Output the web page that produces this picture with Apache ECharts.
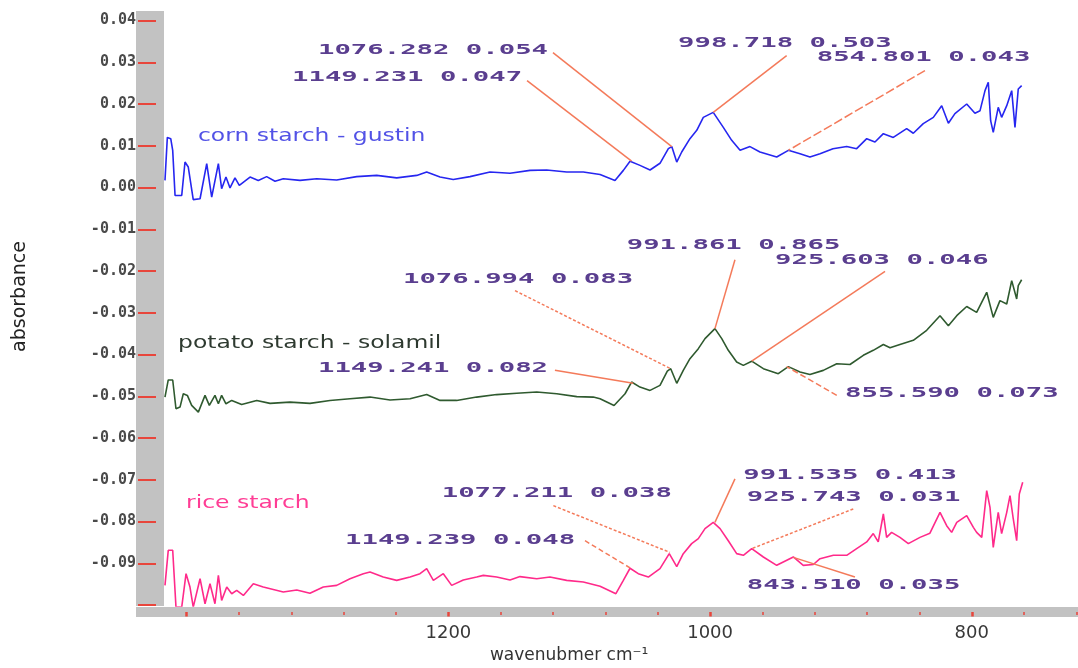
<!DOCTYPE html>
<html><head><meta charset="utf-8">
<script src="https://cdn.jsdelivr.net/npm/echarts@6/dist/echarts.min.js"></script>
<style>html,body{margin:0;padding:0;background:#fff}#main{width:1078px;height:668px}</style>
</head><body><div id="main"></div>
<script>
// ---- data: [wavenumber cm-1, absorbance] ----
const cornStarch = [
[1416.6,0.0017],[1414.8,0.0120],[1412.2,0.0117],[1410.7,0.0089],[1408.9,-0.0019],[1403.8,-0.0019],
[1401.3,0.0061],[1398.8,0.0049],[1395.0,-0.0029],[1389.8,-0.0027],[1384.7,0.0057],[1380.9,-0.0023],
[1375.8,0.0057],[1373.3,-0.0003],[1370.0,0.0025],[1366.9,-0.0001],[1363.1,0.0023],[1359.8,0.0005],
[1351.6,0.0025],[1345.3,0.0017],[1338.9,0.0026],[1332.5,0.0015],[1326.2,0.0021],[1313.4,0.0017],
[1300.6,0.0021],[1285.4,0.0018],[1270.1,0.0026],[1254.8,0.0029],[1239.5,0.0023],[1224.2,0.0029],
[1216.6,0.0037],[1206.4,0.0025],[1196.3,0.0019],[1183.5,0.0026],[1168.2,0.0037],[1152.9,0.0034],
[1137.6,0.0041],[1124.9,0.0042],[1109.6,0.0037],[1096.9,0.0037],[1084.1,0.0031],[1072.7,0.0017],
[1066.3,0.0041],[1061.2,0.0063],[1053.6,0.0053],[1045.9,0.0042],[1038.3,0.0058],[1031.9,0.0093],
[1029.3,0.0098],[1025.5,0.0061],[1021.7,0.0085],[1015.4,0.0117],[1010.2,0.0137],[1005.2,0.0168],
[997.6,0.0180],[989.9,0.0144],[983.5,0.0113],[977.1,0.0089],[969.5,0.0098],[961.9,0.0085],
[949.1,0.0073],[940.2,0.0089],[931.3,0.0081],[923.7,0.0073],[916.0,0.0081],[906.1,0.0093],
[895.6,0.0098],[888.0,0.0093],[880.3,0.0117],[874.0,0.0109],[867.6,0.0129],[860.0,0.0120],
[849.8,0.0141],[844.7,0.0130],[837.1,0.0153],[829.4,0.0168],[823.0,0.0196],[817.9,0.0154],
[812.9,0.0177],[803.9,0.0200],[797.6,0.0178],[793.7,0.0184],[789.9,0.0232],[787.4,0.0252],
[785.6,0.0160],[783.6,0.0132],[779.8,0.0192],[777.2,0.0168],[773.3,0.0196],[769.5,0.0232],
[767.0,0.0144],[764.5,0.0236],[761.9,0.0244]
];
const potatoStarch = [
[1416.6,-0.0502],[1414.1,-0.0461],[1410.7,-0.0461],[1408.2,-0.0530],[1405.1,-0.0526],[1402.6,-0.0494],
[1399.5,-0.0498],[1396.2,-0.0522],[1391.1,-0.0538],[1386.0,-0.0498],[1382.7,-0.0522],[1378.4,-0.0498],
[1375.8,-0.0518],[1373.3,-0.0498],[1370.0,-0.0518],[1365.6,-0.0510],[1358.0,-0.0520],[1346.5,-0.0510],
[1336.3,-0.0517],[1321.1,-0.0514],[1305.8,-0.0517],[1290.5,-0.0510],[1275.2,-0.0506],[1259.9,-0.0502],
[1244.6,-0.0509],[1229.3,-0.0506],[1216.6,-0.0496],[1206.4,-0.0510],[1193.7,-0.0510],[1178.4,-0.0502],
[1163.1,-0.0496],[1147.8,-0.0493],[1132.5,-0.0490],[1117.2,-0.0494],[1101.9,-0.0501],[1089.3,-0.0502],
[1084.1,-0.0506],[1073.4,-0.0522],[1065.0,-0.0494],[1060.0,-0.0466],[1053.6,-0.0478],[1045.9,-0.0486],
[1038.3,-0.0474],[1032.7,-0.0440],[1030.1,-0.0434],[1025.5,-0.0469],[1020.5,-0.0438],[1015.4,-0.0410],
[1009.0,-0.0386],[1003.9,-0.0362],[996.3,-0.0338],[991.1,-0.0362],[986.1,-0.0390],[979.7,-0.0418],
[974.6,-0.0426],[968.2,-0.0416],[959.3,-0.0434],[947.9,-0.0446],[940.2,-0.0429],[931.3,-0.0442],
[923.7,-0.0448],[913.5,-0.0438],[903.2,-0.0422],[893.1,-0.0424],[882.9,-0.0402],[875.3,-0.0390],
[867.6,-0.0376],[862.5,-0.0384],[854.9,-0.0376],[844.7,-0.0366],[834.5,-0.0342],[824.3,-0.0307],
[817.9,-0.0331],[811.5,-0.0307],[803.9,-0.0285],[796.3,-0.0299],[788.6,-0.0251],[783.6,-0.0311],
[778.5,-0.0271],[773.3,-0.0279],[769.5,-0.0223],[765.7,-0.0267],[764.5,-0.0235],[761.9,-0.0221]
];
const riceStarch = [
[1416.6,-0.0953],[1414.1,-0.0869],[1410.7,-0.0869],[1408.2,-0.1005],[1403.8,-0.1005],[1400.5,-0.0925],
[1397.5,-0.0957],[1395.0,-0.1005],[1389.8,-0.0937],[1386.0,-0.0997],[1382.2,-0.0949],[1378.4,-0.0997],
[1375.8,-0.0929],[1373.3,-0.0989],[1369.4,-0.0957],[1365.6,-0.0973],[1361.8,-0.0965],[1356.7,-0.0977],
[1349.1,-0.0949],[1341.5,-0.0957],[1326.2,-0.0969],[1315.9,-0.0964],[1305.8,-0.0972],[1295.6,-0.0957],
[1285.4,-0.0953],[1275.2,-0.0937],[1265.0,-0.0925],[1259.9,-0.0921],[1249.8,-0.0933],[1239.5,-0.0941],
[1229.3,-0.0933],[1221.7,-0.0925],[1216.6,-0.0913],[1211.5,-0.0941],[1203.9,-0.0925],[1197.5,-0.0953],
[1188.6,-0.0940],[1178.4,-0.0933],[1173.3,-0.0929],[1163.1,-0.0933],[1152.9,-0.0940],[1145.3,-0.0932],
[1132.5,-0.0937],[1122.4,-0.0933],[1109.6,-0.0941],[1096.9,-0.0945],[1084.1,-0.0955],[1072.0,-0.0973],
[1066.3,-0.0941],[1061.2,-0.0912],[1054.9,-0.0925],[1047.2,-0.0933],[1038.3,-0.0913],[1031.2,-0.0877],
[1025.5,-0.0908],[1020.5,-0.0877],[1014.1,-0.0853],[1009.0,-0.0841],[1003.9,-0.0817],[997.6,-0.0802],
[992.4,-0.0817],[986.1,-0.0846],[979.7,-0.0877],[974.6,-0.0881],[968.2,-0.0865],[959.3,-0.0885],
[949.1,-0.0905],[936.4,-0.0885],[928.8,-0.0905],[921.1,-0.0903],[916.0,-0.0889],[905.8,-0.0881],
[895.6,-0.0881],[888.0,-0.0865],[880.3,-0.0849],[875.3,-0.0829],[871.5,-0.0849],[867.6,-0.0782],
[865.1,-0.0838],[861.3,-0.0826],[854.9,-0.0838],[848.5,-0.0853],[839.6,-0.0838],[832.0,-0.0828],
[824.3,-0.0778],[819.2,-0.0810],[815.4,-0.0826],[811.5,-0.0802],[803.9,-0.0786],[798.8,-0.0814],
[796.3,-0.0826],[792.4,-0.0838],[788.6,-0.0726],[786.1,-0.0766],[783.6,-0.0862],[779.8,-0.0778],
[777.2,-0.0829],[773.3,-0.0778],[770.8,-0.0738],[768.3,-0.0794],[765.7,-0.0846],[763.7,-0.0734],
[761.1,-0.0706]
];
const seriesNames = ['corn starch - gustin', 'potato starch - solamil', 'rice starch'];
const seriesNameAnchors = [[1391.4, 0.0122], [1406.6, -0.0373], [1400.5, -0.0758]];
const xTickLabels = [1200, 1000, 800];

// peak annotations (text, label anchor, leader start, peak point) in data units
const peakTexts = ['1076.282 0.054','1149.231 0.047','998.718 0.503','854.801 0.043',
  '991.861 0.865','925.603 0.046','1076.994 0.083','1149.241 0.082','855.590 0.073',
  '1077.211 0.038','1149.239 0.048','991.535 0.413','925.743 0.031','843.510 0.035'];
const peakLabelAnchors = [[1299.7,0.0328],[1319.5,0.0264],[1024.5,0.0346],[918.5,0.0312],
  [1063.7,-0.0139],[950.4,-0.0175],[1234.7,-0.0219],[1299.7,-0.0434],[896.9,-0.0494],
  [1205.1,-0.0732],[1279.0,-0.0846],[974.6,-0.0690],[972.0,-0.0742],[972.0,-0.0953]];
const leaderStarts = [[1120.1,0.0323],[1139.9,0.0256],[941.5,0.0316],[835.8,0.0280],
  [981.0,-0.0173],[866.3,-0.0201],[1149.1,-0.0247],[1118.6,-0.0438],[903.2,-0.0498],
  [1119.8,-0.0762],[1095.6,-0.0846],[981.0,-0.0698],[890.6,-0.0770],[889.3,-0.0933]];
const peakPoints = [[1029.3,0.0098],[1060.0,0.0063],[997.6,0.0180],[940.2,0.0089],
  [996.3,-0.0338],[968.2,-0.0416],[1030.1,-0.0434],[1058.7,-0.0469],[941.5,-0.0429],
  [1030.7,-0.0874],[1061.2,-0.0911],[996.3,-0.0802],[968.2,-0.0865],[936.4,-0.0886]];
const leaderDash = [null,null,null,[9,3],null,null,[3,2],null,[6,3],[3,2],[5,3],null,[3,2],null];

// ---- chart ----
const chart = echarts.init(document.getElementById('main'));
const RED = '#e8463c', GRAY = '#c2c2c2';
const option = {
  animation: false,
  backgroundColor: '#fff',
  grid: [
    {left: 136, top: 11, width: 1097.5, height: 595, outerBoundsMode: 'none', containLabel: false},
    {left: 186.7, top: 20.5, width: 1046.8, height: 584.5, outerBoundsMode: 'none', containLabel: false}
  ],
  xAxis: [
    {gridIndex: 0, type: 'value', min: 600, max: 1438.75, inverse: true, offset: 5.5,
     axisLine: {show: true, onZero: false, lineStyle: {color: GRAY, width: 10, cap: 'butt'}},
     axisTick: {show: false}, axisLabel: {show: false}, splitLine: {show: false}},
    {gridIndex: 1, type: 'value', min: 600, max: 1400, interval: 200, inverse: true, offset: 7,
     axisLine: {show: false, onZero: false},
     axisTick: {show: true, length: 4.5, lineStyle: {color: RED, width: 2.5}},
     minorTick: {show: true, splitNumber: 5, length: 3, lineStyle: {color: RED, width: 1.5}},
     axisLabel: {margin: 12, fontSize: 18, color: '#383838', fontFamily: 'DejaVu Sans',
       formatter: v => xTickLabels.indexOf(Math.round(v)) >= 0 ? String(Math.round(v)) : ''},
     splitLine: {show: false},
     name: 'wavenubmer cm\u207B\u00B9', nameLocation: 'middle', nameGap: 33,
     nameTextStyle: {fontSize: 17, color: '#333', fontFamily: 'DejaVu Sans', padding: [0, 282, 0, 0]}}
  ],
  yAxis: [
    {gridIndex: 0, type: 'value', min: -0.10024, max: 0.042275, offset: -14,
     axisLine: {show: true, onZero: false, lineStyle: {color: GRAY, width: 28, cap: 'butt'}},
     axisTick: {show: false}, axisLabel: {show: false}, splitLine: {show: false},
     name: 'absorbance', nameLocation: 'middle', nameGap: 120, nameRotate: 90,
     nameTextStyle: {fontSize: 19, color: '#222', fontFamily: 'DejaVu Sans', padding: [0, 0, 0, 24]}},
    {gridIndex: 1, type: 'value', min: -0.1, max: 0.04, interval: 0.01, offset: 48.7,
     axisLine: {show: false, onZero: false},
     axisTick: {show: true, inside: true, length: 18, lineStyle: {color: RED, width: 2}},
     axisLabel: {margin: 2, fontSize: 15, fontWeight: 'bold', color: '#4a4a4a', fontFamily: 'DejaVu Sans Mono',
       formatter: v => Math.abs(v + 0.1) < 1e-9 ? '' : v.toFixed(2)},
     splitLine: {show: false}}
  ],
  series: [
    {name: seriesNames[0], type: 'line', xAxisIndex: 0, yAxisIndex: 0, data: cornStarch,
     symbol: 'none', lineStyle: {color: '#2626f0', width: 1.6}, z: 5},
    {name: seriesNames[1], type: 'line', xAxisIndex: 0, yAxisIndex: 0, data: potatoStarch,
     symbol: 'none', lineStyle: {color: '#2f5a2f', width: 1.6}, z: 5},
    {name: seriesNames[2], type: 'line', xAxisIndex: 0, yAxisIndex: 0, data: riceStarch,
     symbol: 'none', lineStyle: {color: '#ff2a8a', width: 1.6}, z: 5}
  ]
};
chart.setOption(option);

const toPx = p => chart.convertToPixel({gridIndex: 0}, p);
const els = [];
const nameColors = ['#5252e6', '#2e3a30', '#ff3d95'];
seriesNames.forEach((t, i) => {
  const p = toPx(seriesNameAnchors[i]);
  els.push({type: 'text', x: p[0], y: p[1], scaleX: 1.38, z: 100,
    style: {text: t, fill: nameColors[i], font: '17px "DejaVu Sans"',
      align: 'left', verticalAlign: 'middle', textAlign: 'left', textVerticalAlign: 'middle'}});
});
peakTexts.forEach((t, i) => {
  const a = toPx(leaderStarts[i]), b = toPx(peakPoints[i]);
  els.push({type: 'line', z: 90, shape: {x1: a[0], y1: a[1], x2: b[0], y2: b[1]},
    style: {stroke: '#f47a5a', lineWidth: 1.5, lineDash: leaderDash[i] || null}});
  const p = toPx(peakLabelAnchors[i]);
  els.push({type: 'text', x: p[0], y: p[1], scaleX: 1.95, z: 100,
    style: {text: t, fill: '#5a3e8f', font: 'bold 14px "DejaVu Sans Mono"',
      align: 'left', verticalAlign: 'middle', textAlign: 'left', textVerticalAlign: 'middle'}});
});
chart.setOption({graphic: {elements: els}});
</script></body></html>
